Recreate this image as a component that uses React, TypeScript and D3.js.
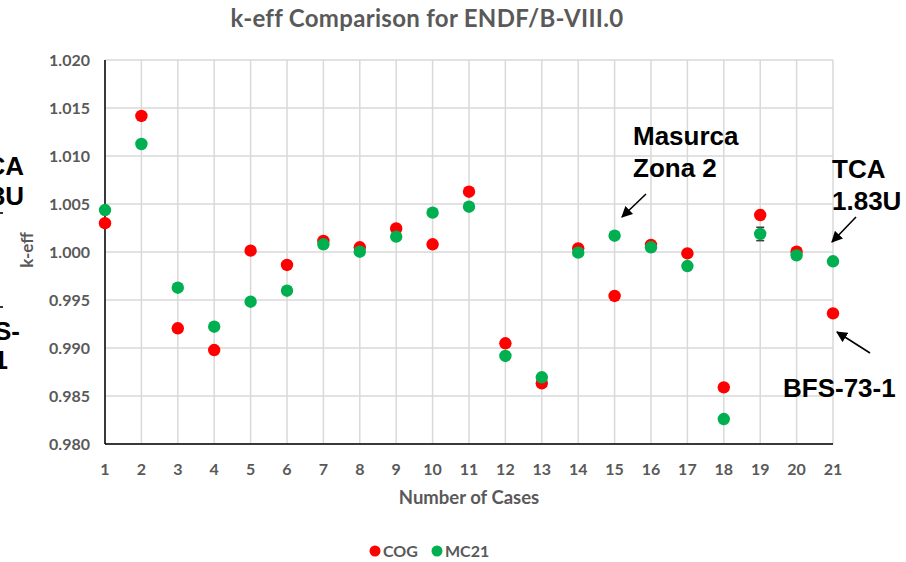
import React from "react";
import * as d3 from "d3";

const cases = d3.range(1, 22);
const cog = [1.0030, 1.01417, 0.99205, 0.98979, 1.00014, 0.99865, 1.00115, 1.00049, 1.00246, 1.0008, 1.00628, 0.99049, 0.98632, 1.00038, 0.99542, 1.00073, 0.99986, 0.9859, 1.00385, 1.00003, 0.99361];
const mc21 = [1.00437, 1.01125, 0.99628, 0.99222, 0.99482, 0.99597, 1.0008, 1.00003, 1.0016, 1.0041, 1.00472, 0.98917, 0.98695, 0.99993, 1.0017, 1.00049, 0.99854, 0.9826, 1.00188, 0.99965, 0.99903];
const mc21Err = [0, 0, 0, 0, 0, 0, 0, 0, 0, 0, 0, 0, 0, 0, 0, 0, 0, 0, 0.0007, 0, 0];
const yTicks = [0.98, 0.985, 0.99, 0.995, 1.0, 1.005, 1.01, 1.015, 1.02];

const W = 906, H = 562;
const M = { left: 105, right: 833, top: 60, bottom: 444 };
const tickFont = "Lato, 'Open Sans', sans-serif";
const annFont = "'Liberation Sans', Arial, sans-serif";

export default function App() {
  const x = d3.scaleLinear().domain([1, 21]).range([M.left, M.right]);
  const y = d3.scaleLinear().domain([0.98, 1.02]).range([M.bottom, M.top]);
  const grid = "#d9d9d9";
  const gray = "#595959";
  return (
    <svg width={W} height={H} style={{ position: "absolute", left: 0, top: 0, background: "#fff" }}>
      <defs>
        <marker id="ah" viewBox="0 0 10 10" refX="9" refY="5" markerWidth="7" markerHeight="7" markerUnits="strokeWidth" orient="auto">
          <path d="M0,0 L10,5 L0,10 Z" fill="#000" />
        </marker>
      </defs>
      <rect width={W} height={H} fill="#fff" />
      {/* title */}
      <text x={427} y={27} textAnchor="middle" fontFamily={tickFont} fontWeight={700} fontSize={24} letterSpacing={0.3} fill={gray}>
        k-eff Comparison for ENDF/B-VIII.0
      </text>
      {/* gridlines */}
      {yTicks.map((t) => (
        <line key={"gy" + t} x1={M.left} x2={M.right} y1={y(t)} y2={y(t)} stroke={grid} strokeWidth={1.5} />
      ))}
      {cases.map((c) => (
        <line key={"gx" + c} x1={x(c)} x2={x(c)} y1={M.top} y2={M.bottom} stroke={grid} strokeWidth={1.5} />
      ))}
      {/* axes */}
      <line x1={M.left} x2={M.left} y1={M.top} y2={M.bottom} stroke="#000" strokeWidth={1.5} />
      <line x1={M.left} x2={M.right} y1={M.bottom} y2={M.bottom} stroke="#000" strokeWidth={1.5} />
      {/* y tick labels */}
      {yTicks.map((t) => (
        <text key={"ty" + t} x={90} y={y(t)} dy="0.35em" textAnchor="end" fontFamily={tickFont} fontWeight={700} fontSize={16} fill={gray}>
          {d3.format(".3f")(t)}
        </text>
      ))}
      {/* x tick labels */}
      {cases.map((c) => (
        <text key={"tx" + c} x={x(c)} y={469} dy="0.35em" textAnchor="middle" fontFamily={tickFont} fontWeight={700} fontSize={16} fill={gray}>
          {c}
        </text>
      ))}
      <text x={469} y={498} dy="0.35em" textAnchor="middle" fontFamily={tickFont} fontWeight={700} fontSize={18.5} fill={gray}>
        Number of Cases
      </text>
      <text transform={`translate(27,250) rotate(-90)`} textAnchor="middle" dy="0.35em" fontFamily={tickFont} fontWeight={700} fontSize={17} fill={gray}>
        k-eff
      </text>
      {/* error bars */}
      {cases.map((c, i) =>
        mc21Err[i] > 0 ? (
          <g key={"e" + c} stroke="#404040" strokeWidth={1.5}>
            <line x1={x(c)} x2={x(c)} y1={y(mc21[i] - mc21Err[i])} y2={y(mc21[i] + mc21Err[i])} />
            <line x1={x(c) - 4} x2={x(c) + 4} y1={y(mc21[i] - mc21Err[i])} y2={y(mc21[i] - mc21Err[i])} />
            <line x1={x(c) - 4} x2={x(c) + 4} y1={y(mc21[i] + mc21Err[i])} y2={y(mc21[i] + mc21Err[i])} />
          </g>
        ) : null
      )}
      {/* points */}
      {cases.map((c, i) => (
        <circle key={"r" + c} cx={x(c)} cy={y(cog[i])} r={6.2} fill="#ff0000" />
      ))}
      {cases.map((c, i) => (
        <circle key={"g" + c} cx={x(c)} cy={y(mc21[i])} r={6.2} fill="#00b050" />
      ))}
      {/* annotations */}
      <g fontFamily={annFont} fontWeight={700} fontSize={26} fill="#000">
        <text x={633} y={145}>Masurca</text>
        <text x={633} y={177}>Zona 2</text>
        <text x={832} y={178}>TCA</text>
        <text x={832} y={210}>1.83U</text>
        <text x={783} y={397}>BFS-73-1</text>
        <text x={24} y={175} textAnchor="end">TCA</text>
        <text x={24} y={205} textAnchor="end">1.83U</text>
        <text x={20} y={340} textAnchor="end">BFS-</text>
        <text x={8} y={369} textAnchor="end">73-1</text>
      </g>
      <g stroke="#000" strokeWidth={1.6}>
        <line x1={646} y1={194} x2={622} y2={217} markerEnd="url(#ah)" />
        <line x1={856} y1={217} x2={832} y2={242} markerEnd="url(#ah)" />
        <line x1={870} y1={353} x2={837} y2={332} markerEnd="url(#ah)" />
        <line x1={0} y1={213} x2={3} y2={213} />
        <line x1={0} y1={307} x2={3} y2={307} />
      </g>
      {/* legend */}
      <circle cx={375} cy={551} r={5.5} fill="#ff0000" />
      <text x={383} y={551} dy="0.35em" fontFamily={tickFont} fontWeight={700} fontSize={16} fill={gray}>COG</text>
      <circle cx={437} cy={551} r={5.5} fill="#00b050" />
      <text x={445} y={551} dy="0.35em" fontFamily={tickFont} fontWeight={700} fontSize={16} fill={gray}>MC21</text>
    </svg>
  );
}
